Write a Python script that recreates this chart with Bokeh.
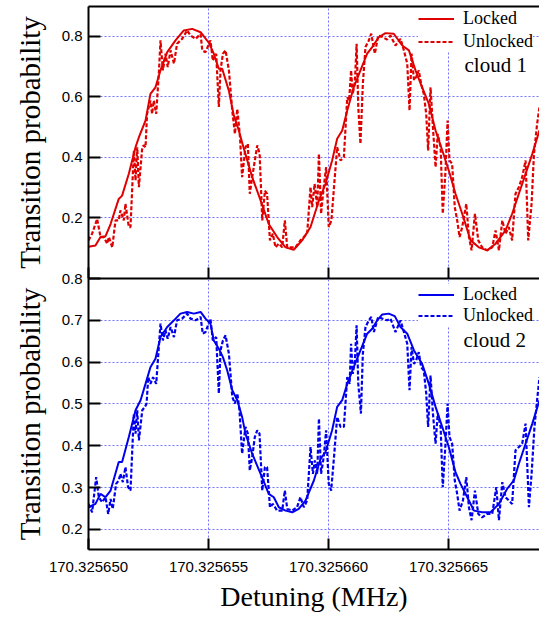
from bokeh.plotting import figure
from bokeh.models import Range1d, FixedTicker, LinearAxis, Label
from bokeh.layouts import column
from bokeh.embed import file_html
from bokeh.resources import INLINE

# ---- data (x = detuning offset from 170.325650 MHz, in Hz) ----
x_ticks = [0, 5, 10, 15]
x_tick_labels = ["170.325650", "170.325655", "170.325660", "170.325665"]
top_y_ticks = [0.2, 0.4, 0.6, 0.8]
bottom_y_ticks = [0.2, 0.3, 0.4, 0.5, 0.6, 0.7, 0.8]

c1_locked_x = [0.0, 0.29, 0.5, 0.71, 0.92, 1.26, 1.4, 1.68, 1.96, 2.10, 2.375, 2.58, 2.79, 3.0, 3.28,
               3.625, 3.97, 4.32, 4.67, 5.01, 5.22, 5.43, 5.57, 5.85, 6.05, 6.26, 6.47, 6.82, 7.17,
               7.51, 7.86, 8.21, 8.55, 8.9, 9.25, 9.6, 9.875, 10.15, 10.36, 10.57, 10.78, 11.05,
               11.33, 11.61, 11.82, 12.1, 12.375, 12.72, 13.07, 13.35, 13.625, 13.9, 14.18, 14.46,
               14.74, 15.01, 15.29, 15.57, 15.92, 16.26, 16.61, 16.96, 17.375, 17.65, 17.93, 18.21,
               18.49, 18.79]
c1_locked_y = [0.105, 0.109, 0.137, 0.14, 0.18, 0.263, 0.274, 0.346, 0.434, 0.467, 0.522, 0.61, 0.632,
               0.688, 0.748, 0.787, 0.82, 0.825, 0.814, 0.78, 0.743, 0.693, 0.693, 0.62, 0.54, 0.49,
               0.43, 0.335, 0.258, 0.18, 0.137, 0.103, 0.095, 0.126, 0.17, 0.258, 0.313, 0.39, 0.462,
               0.489, 0.555, 0.632, 0.688, 0.743, 0.765, 0.798, 0.811, 0.809, 0.77, 0.754, 0.688,
               0.632, 0.577, 0.489, 0.423, 0.357, 0.28, 0.214, 0.126, 0.103, 0.093, 0.115, 0.159,
               0.214, 0.28, 0.346, 0.412, 0.49]

c1_unlocked_x = [0.0, 0.15, 0.36, 0.5, 0.64, 0.78, 0.85, 0.99, 1.125, 1.26, 1.33, 1.47, 1.54, 1.68, 1.75,
                 1.89, 1.96, 2.03, 2.1, 2.24, 2.3, 2.375, 2.44, 2.58, 2.65, 2.72, 2.82, 2.93, 3.0, 3.1,
                 3.21, 3.3, 3.42, 3.56, 3.69, 3.9, 4.11, 4.25, 4.46, 4.67, 4.74, 4.875, 5.08, 5.18,
                 5.32, 5.43, 5.5, 5.6, 5.71, 5.85, 5.99, 6.1, 6.2, 6.31, 6.4, 6.54, 6.64, 6.72, 6.82,
                 6.93, 7.03, 7.13, 7.24, 7.35, 7.44, 7.56, 7.68, 7.79, 7.93, 8.07, 8.18, 8.28, 8.42,
                 8.625, 8.83, 8.97, 9.11, 9.25, 9.32, 9.42, 9.53, 9.6, 9.69, 9.8, 9.9, 10.01, 10.12,
                 10.24, 10.36, 10.5, 10.64, 10.78, 10.86, 10.94, 11.01, 11.1, 11.17, 11.24, 11.33,
                 11.43, 11.54, 11.68, 11.78, 11.93, 12.07, 12.24, 12.44, 12.58, 12.79, 13.0, 13.14,
                 13.28, 13.375, 13.46, 13.56, 13.65, 13.76, 13.86, 13.97, 14.07, 14.15, 14.25, 14.35,
                 14.46, 14.55, 14.67, 14.76, 14.875, 14.96, 15.04, 15.15, 15.26, 15.36, 15.46, 15.57,
                 15.74, 15.85, 15.96, 16.1, 16.24, 16.4, 16.61, 16.82, 16.96, 17.1, 17.24, 17.375,
                 17.51, 17.65, 17.79, 17.93, 18.07, 18.21, 18.32, 18.46, 18.56, 18.69, 18.79]
c1_unlocked_y = [0.126, 0.148, 0.197, 0.137, 0.137, 0.115, 0.137, 0.103, 0.192, 0.192, 0.225, 0.192,
                 0.247, 0.17, 0.17, 0.423, 0.324, 0.434, 0.302, 0.434, 0.44, 0.434, 0.544, 0.588,
                 0.544, 0.588, 0.544, 0.677, 0.787, 0.688, 0.743, 0.699, 0.754, 0.71, 0.776, 0.792,
                 0.82, 0.803, 0.792, 0.808, 0.754, 0.748, 0.787, 0.72, 0.743, 0.567, 0.688, 0.743,
                 0.754, 0.688, 0.555, 0.478, 0.56, 0.47, 0.335, 0.434, 0.445, 0.28, 0.335, 0.39,
                 0.44, 0.412, 0.192, 0.29, 0.28, 0.126, 0.148, 0.103, 0.115, 0.103, 0.192, 0.103,
                 0.103, 0.103, 0.126, 0.137, 0.148, 0.302, 0.236, 0.313, 0.236, 0.412, 0.214, 0.302,
                 0.368, 0.17, 0.192, 0.313, 0.434, 0.39, 0.401, 0.599, 0.588, 0.688, 0.61, 0.65,
                 0.776, 0.567, 0.445, 0.643, 0.765, 0.787, 0.809, 0.743, 0.803, 0.798, 0.79, 0.803,
                 0.77, 0.792, 0.754, 0.71, 0.555, 0.743, 0.655, 0.666, 0.688, 0.643, 0.61, 0.544,
                 0.423, 0.632, 0.5, 0.368, 0.478, 0.434, 0.214, 0.357, 0.522, 0.39, 0.379, 0.236,
                 0.192, 0.137, 0.17, 0.247, 0.137, 0.093, 0.214, 0.126, 0.103, 0.093, 0.103, 0.159,
                 0.093, 0.192, 0.148, 0.17, 0.126, 0.28, 0.302, 0.335, 0.39, 0.126, 0.247, 0.412,
                 0.511, 0.567]

c2_locked_x = [0.0, 0.29, 0.5, 0.71, 0.92, 1.26, 1.4, 1.68, 1.96, 2.17, 2.375, 2.58, 2.79, 3.0, 3.28,
               3.56, 3.83, 4.11, 4.39, 4.67, 4.875, 5.08, 5.22, 5.43, 5.6, 5.78, 5.99, 6.2, 6.4, 6.54,
               6.82, 7.17, 7.51, 7.72, 7.93, 8.21, 8.49, 8.76, 9.04, 9.39, 9.67, 9.875, 10.15, 10.36,
               10.57, 10.78, 11.05, 11.33, 11.61, 11.82, 12.03, 12.24, 12.51, 12.76, 13.0, 13.28,
               13.56, 13.9, 14.18, 14.46, 14.74, 15.01, 15.29, 15.5, 15.78, 16.06, 16.4, 16.75,
               17.1, 17.44, 17.72, 17.93, 18.21, 18.49, 18.79]
c2_locked_y = [0.253, 0.261, 0.285, 0.277, 0.293, 0.361, 0.361, 0.421, 0.485, 0.509, 0.548, 0.588,
               0.608, 0.66, 0.684, 0.7, 0.716, 0.72, 0.716, 0.72, 0.704, 0.692, 0.652, 0.632, 0.612,
               0.58, 0.533, 0.509, 0.469, 0.429, 0.381, 0.333, 0.285, 0.277, 0.253, 0.245, 0.241,
               0.249, 0.269, 0.317, 0.369, 0.385, 0.437, 0.493, 0.509, 0.548, 0.588, 0.628, 0.668,
               0.68, 0.7, 0.714, 0.716, 0.71, 0.684, 0.668, 0.628, 0.596, 0.548, 0.493, 0.445,
               0.397, 0.337, 0.309, 0.277, 0.245, 0.241, 0.241, 0.261, 0.297, 0.317, 0.357, 0.405,
               0.453, 0.509]

c2_unlocked_x = [0.0, 0.15, 0.32, 0.43, 0.57, 0.71, 0.82, 0.92, 1.01, 1.15, 1.26, 1.33, 1.43, 1.54,
                 1.65, 1.75, 1.89, 1.96, 2.03, 2.1, 2.24, 2.35, 2.42, 2.49, 2.58, 2.69, 2.82, 2.93,
                 3.0, 3.1, 3.21, 3.3, 3.42, 3.56, 3.69, 3.9, 4.11, 4.25, 4.46, 4.67, 4.76, 4.875,
                 5.08, 5.18, 5.32, 5.43, 5.5, 5.6, 5.71, 5.85, 5.99, 6.1, 6.2, 6.29, 6.4, 6.54, 6.64,
                 6.72, 6.82, 6.93, 7.03, 7.125, 7.24, 7.35, 7.44, 7.56, 7.68, 7.86, 8.07, 8.18, 8.28,
                 8.49, 8.69, 8.83, 8.97, 9.11, 9.25, 9.35, 9.43, 9.53, 9.6, 9.69, 9.8, 9.9, 10.01,
                 10.11, 10.24, 10.36, 10.5, 10.64, 10.78, 10.88, 10.94, 11.01, 11.1, 11.17, 11.24,
                 11.35, 11.43, 11.54, 11.68, 11.78, 11.89, 12.07, 12.24, 12.44, 12.58, 12.79, 13.0,
                 13.14, 13.28, 13.375, 13.46, 13.56, 13.65, 13.76, 13.86, 13.97, 14.07, 14.15, 14.25,
                 14.35, 14.46, 14.55, 14.67, 14.76, 14.875, 14.96, 15.04, 15.15, 15.26, 15.36, 15.46,
                 15.6, 15.74, 15.85, 15.96, 16.1, 16.24, 16.4, 16.61, 16.82, 16.99, 17.1, 17.24,
                 17.375, 17.51, 17.65, 17.79, 17.93, 18.07, 18.21, 18.35, 18.46, 18.58, 18.69, 18.79]
c2_unlocked_y = [0.261, 0.241, 0.325, 0.277, 0.265, 0.277, 0.237, 0.273, 0.249, 0.309, 0.317, 0.333,
                 0.313, 0.349, 0.301, 0.293, 0.477, 0.429, 0.485, 0.413, 0.485, 0.493, 0.501, 0.564,
                 0.548, 0.564, 0.548, 0.636, 0.692, 0.652, 0.676, 0.656, 0.684, 0.66, 0.7, 0.704,
                 0.716, 0.704, 0.7, 0.708, 0.668, 0.672, 0.704, 0.652, 0.66, 0.525, 0.628, 0.652,
                 0.664, 0.62, 0.517, 0.501, 0.525, 0.485, 0.381, 0.445, 0.429, 0.341, 0.373, 0.421,
                 0.437, 0.429, 0.293, 0.349, 0.349, 0.253, 0.261, 0.245, 0.245, 0.293, 0.249, 0.245,
                 0.253, 0.277, 0.253, 0.269, 0.397, 0.333, 0.365, 0.333, 0.465, 0.333, 0.373, 0.437,
                 0.309, 0.293, 0.381, 0.469, 0.445, 0.445, 0.564, 0.548, 0.644, 0.572, 0.604, 0.688,
                 0.548, 0.477, 0.62, 0.684, 0.7, 0.708, 0.672, 0.708, 0.704, 0.7, 0.704, 0.672, 0.7,
                 0.672, 0.644, 0.533, 0.636, 0.596, 0.604, 0.624, 0.588, 0.58, 0.525, 0.445, 0.568,
                 0.477, 0.405, 0.477, 0.445, 0.301, 0.405, 0.501, 0.421, 0.405, 0.317, 0.285, 0.245,
                 0.269, 0.325, 0.253, 0.222, 0.293, 0.237, 0.229, 0.237, 0.237, 0.301, 0.222, 0.313,
                 0.277, 0.269, 0.261, 0.389, 0.397, 0.405, 0.453, 0.253, 0.333, 0.445, 0.509, 0.564]

# ---- styling ----
RED = "#e00000"
BLUE = "#0000ee"
GRID = "#7373ff"
SANS = "Liberation Sans"
SERIF = "Liberation Serif"
XMAX = 18.79


def style_common(p, yticks):
    p.outline_line_color = None
    p.xgrid.ticker = FixedTicker(ticks=x_ticks)
    p.ygrid.ticker = FixedTicker(ticks=yticks)
    for g in (p.xgrid[0], p.ygrid[0]):
        g.grid_line_color = GRID
        g.grid_line_dash = "2 2"
        g.grid_line_width = 1
    ax = p.yaxis[0]
    ax.ticker = FixedTicker(ticks=yticks)
    ax.major_tick_in = 12
    ax.major_tick_out = 0
    ax.minor_tick_line_color = None
    ax.axis_line_width = 2
    ax.major_tick_line_width = 2
    ax.major_label_text_font = SANS
    ax.major_label_text_font_size = "15px"
    ax.major_label_text_color = "black"
    ax.major_label_standoff = 6
    ax.axis_label = "Transition probability"
    ax.axis_label_text_font = SERIF
    ax.axis_label_text_font_size = "29px"
    ax.axis_label_text_font_style = "normal"
    ax.axis_label_text_color = "black"
    ax.axis_label_standoff = 13
    xa = p.xaxis[0]
    xa.ticker = FixedTicker(ticks=x_ticks)
    xa.major_tick_in = 11
    xa.major_tick_out = 0
    xa.minor_tick_line_color = None
    xa.axis_line_width = 2
    xa.major_tick_line_width = 2


def style_legend(lg):
    lg.margin = 0
    lg.padding = 0
    lg.spacing = 2
    lg.glyph_width = 36
    lg.glyph_height = 21
    lg.label_height = 21
    lg.label_standoff = 9
    lg.label_text_font = SERIF
    lg.label_text_font_size = "18px"
    lg.label_text_color = "black"
    lg.background_fill_color = "white"
    lg.background_fill_alpha = 1.0
    lg.border_line_color = None


# ---- top panel (cloud 1) ----
p1 = figure(width=539, height=280, x_range=Range1d(0, XMAX), y_range=Range1d(0, 0.899),
            output_backend="svg", toolbar_location=None,
            min_border_left=88, min_border_right=0, min_border_top=6, min_border_bottom=2)
p1.line(c1_locked_x, c1_locked_y, line_color=RED, line_width=2, legend_label="Locked")
p1.line(c1_unlocked_x, c1_unlocked_y, line_color=RED, line_width=2.2, line_dash="4 2",
        legend_label="Unlocked")
style_common(p1, top_y_ticks)
p1.xaxis[0].major_label_text_font_size = "0px"
p1.xaxis[0].major_label_text_color = None
p1.xaxis[0].major_label_standoff = 0
top_border = LinearAxis(ticker=FixedTicker(ticks=[]), major_tick_in=0, major_tick_out=0,
                        minor_tick_line_color=None, major_label_text_font_size="0px",
                        major_label_text_color=None, major_label_standoff=0, axis_line_width=2)
p1.add_layout(top_border, "above")
style_legend(p1.legend[0])
p1.legend[0].location = (330, 226)
p1.add_layout(Label(x=376, y=214, x_units="screen", y_units="screen", text="cloud 1",
                    text_font=SERIF, text_font_size="21px", text_baseline="middle",
                    text_align="left", text_color="black"))

# ---- bottom panel (cloud 2) ----
p2 = figure(width=539, height=348, x_range=Range1d(0, XMAX), y_range=Range1d(0.152, 0.8),
            output_backend="svg", toolbar_location=None,
            min_border_left=88, min_border_right=0, min_border_top=10, min_border_bottom=67)
p2.line(c2_locked_x, c2_locked_y, line_color=BLUE, line_width=2, legend_label="Locked")
p2.line(c2_unlocked_x, c2_unlocked_y, line_color=BLUE, line_width=2.2, line_dash="4 2",
        legend_label="Unlocked")
style_common(p2, bottom_y_ticks)
xa = p2.xaxis[0]
xa.major_label_overrides = {t: s for t, s in zip(x_ticks, x_tick_labels)}
xa.major_label_text_font = SANS
xa.major_label_text_font_size = "15px"
xa.major_label_text_color = "black"
xa.major_label_standoff = 12
xa.axis_label = "Detuning (MHz)"
xa.axis_label_text_font = SERIF
xa.axis_label_text_font_size = "28px"
xa.axis_label_text_font_style = "normal"
xa.axis_label_text_color = "black"
xa.axis_label_standoff = 6
style_legend(p2.legend[0])
p2.legend[0].spacing = 0
p2.legend[0].location = (330, 223)
p2.background_fill_alpha = 0
p2.border_fill_alpha = 0
p2.margin = (-12, 0, 0, 0)
p2.add_layout(Label(x=375, y=210, x_units="screen", y_units="screen", text="cloud 2",
                    text_font=SERIF, text_font_size="21px", text_baseline="middle",
                    text_align="left", text_color="black"))

layout = column(p1, p2, spacing=0)
open("out.html", "w").write(file_html(layout, INLINE))
